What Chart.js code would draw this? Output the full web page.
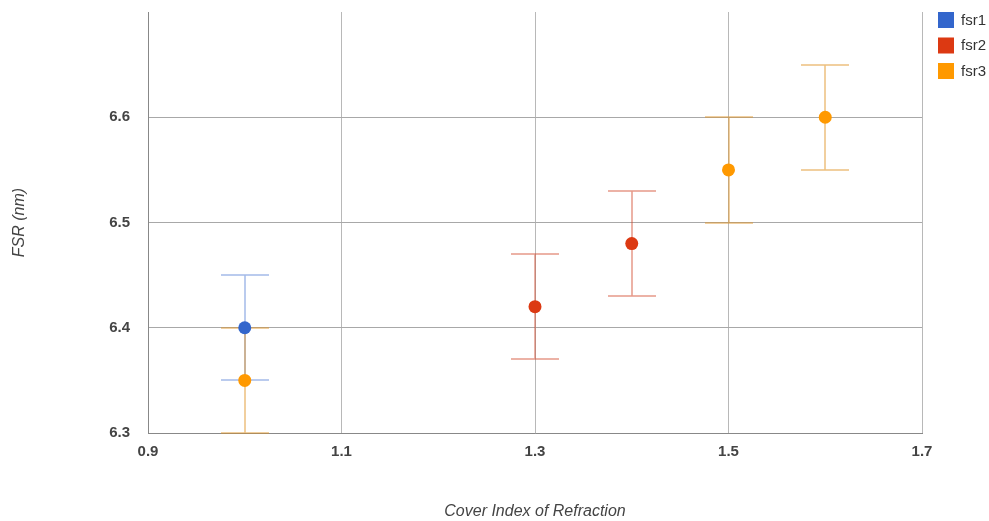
<!DOCTYPE html>
<html>
<head>
<meta charset="utf-8">
<script src="https://cdn.jsdelivr.net/npm/chart.js@4.4.1/dist/chart.umd.min.js"></script>
<style>
  html, body { margin: 0; padding: 0; background: #fff; }
  #wrap { width: 989px; height: 521px; }
</style>
</head>
<body>
<div id="wrap"><canvas id="fsrChart" width="989" height="521"></canvas></div>
<script>
// cover index / FSR values with +/- error for each series
var fsr1X = [1.0];
var fsr1Y = [6.40];
var fsr1Err = [0.05];

var fsr2X = [1.3, 1.4];
var fsr2Y = [6.42, 6.48];
var fsr2Err = [0.05, 0.05];

var fsr3X = [1.0, 1.5, 1.6];
var fsr3Y = [6.35, 6.55, 6.60];
var fsr3Err = [0.05, 0.05, 0.05];

var seriesNames = ["fsr1", "fsr2", "fsr3"];
var xTicks = [0.9, 1.1, 1.3, 1.5, 1.7];
var yTicks = [6.3, 6.4, 6.5, 6.6];

var FONT = "Arial, 'Liberation Sans', sans-serif";

function puntos(xs, ys, errs) {
  var out = [];
  for (var i = 0; i < xs.length; i++) {
    out.push({ x: xs[i], y: ys[i], err: errs[i] });
  }
  return out;
}

// error bars: vertical whisker + caps, drawn under the points
var barrasError = {
  id: "barrasError",
  beforeDatasetsDraw: function (chart) {
    var ctx = chart.ctx;
    var xs = chart.scales.x, ys = chart.scales.y;
    chart.data.datasets.forEach(function (ds) {
      ctx.save();
      ctx.strokeStyle = ds.errorColor;
      ctx.lineWidth = 1.5;
      ds.data.forEach(function (p) {
        var px = Math.round(xs.getPixelForValue(p.x));
        var top = Math.round(ys.getPixelForValue(p.y + p.err));
        var bot = Math.round(ys.getPixelForValue(p.y - p.err));
        ctx.beginPath();
        ctx.moveTo(px, top); ctx.lineTo(px, bot);
        ctx.moveTo(px - 24, top); ctx.lineTo(px + 24, top);
        ctx.moveTo(px - 24, bot); ctx.lineTo(px + 24, bot);
        ctx.stroke();
      });
      ctx.restore();
    });
  }
};

// legend with square swatches at the top right
var leyenda = {
  id: "leyenda",
  afterDraw: function (chart) {
    var ctx = chart.ctx;
    ctx.save();
    ctx.font = "15px " + FONT;
    ctx.textBaseline = "middle";
    chart.data.datasets.forEach(function (ds, i) {
      var y = 12 + i * 25.5;
      ctx.fillStyle = ds.backgroundColor;
      ctx.fillRect(938, y, 16, 16);
      ctx.fillStyle = "#333";
      ctx.fillText(ds.label, 961, y + 8.5);
    });
    ctx.restore();
  }
};

var ctx = document.getElementById("fsrChart").getContext("2d");
var grafica = new Chart(ctx, {
  type: "scatter",
  data: {
    datasets: [{
      label: seriesNames[0],
      data: puntos(fsr1X, fsr1Y, fsr1Err),
      backgroundColor: "#3366CC",
      borderColor: "#3366CC",
      errorColor: "rgba(51,102,204,0.45)"
    }, {
      label: seriesNames[1],
      data: puntos(fsr2X, fsr2Y, fsr2Err),
      backgroundColor: "#DC3912",
      borderColor: "#DC3912",
      errorColor: "rgba(210,70,40,0.55)"
    }, {
      label: seriesNames[2],
      data: puntos(fsr3X, fsr3Y, fsr3Err),
      backgroundColor: "#FF9900",
      borderColor: "#FF9900",
      errorColor: "rgba(225,150,40,0.6)"
    }]
  },
  options: {
    responsive: false,
    animation: false,
    layout: { padding: { top: 12, right: 67, left: 0, bottom: 0 } },
    elements: { point: { radius: 6.5, borderWidth: 0, hoverRadius: 6.5 } },
    plugins: {
      legend: { display: false },
      tooltip: { enabled: false }
    },
    scales: {
      x: {
        type: "linear",
        min: 0.9,
        max: 1.7,
        afterBuildTicks: function (axis) {
          axis.ticks = xTicks.map(function (v) { return { value: v }; });
        },
        afterFit: function (axis) {
          axis.height = 88;
          axis.paddingLeft = 0;
          axis.paddingRight = 0;
        },
        ticks: {
          padding: 10,
          color: "#444",
          font: { family: FONT, size: 15, weight: "bold" },
          callback: function (v) { return v.toFixed(1); }
        },
        grid: { color: "#b8b8b8", drawTicks: false },
        border: { color: "#888" },
        title: {
          display: true,
          text: "Cover Index of Refraction",
          color: "#444",
          font: { family: FONT, size: 16, style: "italic" },
          padding: { top: 0, bottom: 0 }
        }
      },
      y: {
        type: "linear",
        min: 6.3,
        max: 6.7,
        afterBuildTicks: function (axis) {
          axis.ticks = yTicks.concat([6.7]).map(function (v) { return { value: v }; });
        },
        afterFit: function (axis) {
          axis.width = 148;
          axis.paddingTop = 0;
          axis.paddingBottom = 0;
        },
        ticks: {
          padding: 18,
          color: "#444",
          font: { family: FONT, size: 15, weight: "bold" },
          callback: function (v) { return v > 6.65 ? "" : v.toFixed(1); }
        },
        grid: {
          drawTicks: false,
          color: function (c) { return c.tick && c.tick.value > 6.65 ? "rgba(0,0,0,0)" : "#a8a8a8"; }
        },
        border: { color: "#888" },
        title: {
          display: true,
          text: "FSR (nm)",
          color: "#444",
          font: { family: FONT, size: 16, style: "italic" },
          padding: { top: 10, bottom: 0 }
        }
      }
    }
  },
  plugins: [barrasError, leyenda]
});
</script>
</body>
</html>
